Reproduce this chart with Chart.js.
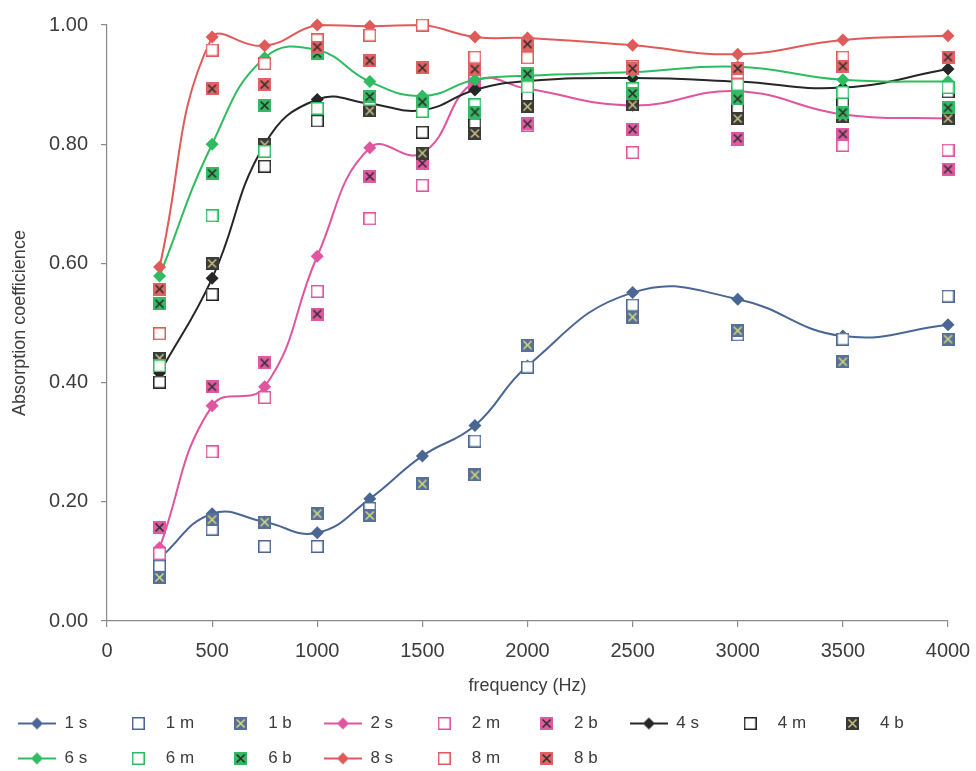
<!DOCTYPE html>
<html>
<head>
<meta charset="utf-8">
<title>Absorption coefficient</title>
<script src="https://cdn.jsdelivr.net/npm/chart.js@4"></script>
<style>
  html, body { margin: 0; padding: 0; background: #fff; }
</style>
</head>
<body>
<canvas id="absorptionChart" width="976" height="771"></canvas>
<script>
// Measured frequencies (Hz)
const freqs = [250, 500, 750, 1000, 1250, 1500, 1750, 2000, 2500, 3000, 3500, 4000];

// s = smoothed curve, m / b = the two measured sets for each sample
const s1 = [0.105, 0.180, 0.166, 0.148, 0.205, 0.277, 0.328, 0.428, 0.551, 0.540, 0.478, 0.497];
const m1 = [0.092, 0.154, 0.125, 0.125, 0.189, 0.230, 0.302, 0.426, 0.530, 0.480, 0.473, 0.545];
const b1 = [0.073, 0.170, 0.166, 0.180, 0.177, 0.230, 0.245, 0.463, 0.510, 0.487, 0.435, 0.473];

const s2 = [0.123, 0.361, 0.393, 0.612, 0.794, 0.785, 0.905, 0.893, 0.865, 0.889, 0.850, 0.843];
const m2 = [0.113, 0.284, 0.375, 0.553, 0.675, 0.731, 0.910, 0.832, 0.786, 0.808, 0.798, 0.790];
const b2 = [0.157, 0.393, 0.433, 0.515, 0.746, 0.768, 0.900, 0.834, 0.825, 0.810, 0.817, 0.758];

const s4 = [0.416, 0.575, 0.800, 0.875, 0.868, 0.857, 0.891, 0.906, 0.911, 0.905, 0.895, 0.926];
const m4 = [0.401, 0.548, 0.763, 0.839, 0.860, 0.820, 0.833, 0.880, 0.893, 0.859, 0.868, 0.888];
const b4 = [0.441, 0.600, 0.799, 0.858, 0.856, 0.785, 0.818, 0.863, 0.866, 0.843, 0.846, 0.843];

const s6 = [0.579, 0.800, 0.945, 0.958, 0.905, 0.881, 0.908, 0.915, 0.921, 0.930, 0.908, 0.905];
const m6 = [0.428, 0.680, 0.788, 0.860, 0.875, 0.855, 0.866, 0.896, 0.893, 0.900, 0.887, 0.895];
const b6 = [0.532, 0.751, 0.865, 0.952, 0.880, 0.871, 0.854, 0.918, 0.885, 0.876, 0.853, 0.861];

const s8 = [0.594, 0.980, 0.965, 1.000, 0.998, 1.000, 0.980, 0.978, 0.966, 0.951, 0.975, 0.982];
const m8 = [0.482, 0.958, 0.935, 0.975, 0.983, 1.000, 0.946, 0.945, 0.930, 0.920, 0.946, 0.945];
const b8 = [0.557, 0.893, 0.900, 0.963, 0.940, 0.928, 0.926, 0.968, 0.927, 0.927, 0.931, 0.946];

const yTicks = [0, 0.2, 0.4, 0.6, 0.8, 1.0];

// colours per sample
const palette = {
    '1': { line: '#4a6694', fill: '#57709a', cross: '#d6da78' },
    '2': { line: '#e0559f', fill: '#e05aa2', cross: '#2e2e2e' },
    '4': { line: '#262626', fill: '#3a3a3a', cross: '#c9c27e' },
    '6': { line: '#2fbb5f', fill: '#35b963', cross: '#2a2a2a' },
    '8': { line: '#e05a5a', fill: '#e06262', cross: '#2e2e2e' }
};

const series = [
    ['1', s1, m1, b1],
    ['2', s2, m2, b2],
    ['4', s4, m4, b4],
    ['6', s6, m6, b6],
    ['8', s8, m8, b8]
];

const textColor = '#3c3c3c';
const axisColor = '#8a8a8a';

// marker images
function crossSquare(fill, cross) {
    const c = document.createElement('canvas');
    c.width = 13; c.height = 13;
    const g = c.getContext('2d');
    g.fillStyle = fill;
    g.fillRect(0, 0, 13, 13);
    g.strokeStyle = cross;
    g.lineWidth = 1.6;
    g.beginPath();
    g.moveTo(2.5, 2.5); g.lineTo(10.5, 10.5);
    g.moveTo(10.5, 2.5); g.lineTo(2.5, 10.5);
    g.stroke();
    return c;
}

function openSquare(color) {
    const c = document.createElement('canvas');
    c.width = 13; c.height = 13;
    const g = c.getContext('2d');
    g.fillStyle = '#fff';
    g.fillRect(0, 0, 13, 13);
    g.strokeStyle = color;
    g.lineWidth = 1.5;
    g.strokeRect(0.75, 0.75, 11.5, 11.5);
    return c;
}

function lineDiamond(color) {
    const c = document.createElement('canvas');
    c.width = 38; c.height = 14;
    const g = c.getContext('2d');
    g.strokeStyle = color;
    g.lineWidth = 2;
    g.beginPath();
    g.moveTo(0, 7); g.lineTo(38, 7);
    g.stroke();
    g.fillStyle = color;
    g.beginPath();
    g.moveTo(19, 1); g.lineTo(25, 7); g.lineTo(19, 13); g.lineTo(13, 7);
    g.closePath();
    g.fill();
    return c;
}

const toPoints = vals => vals.map((v, i) => ({ x: freqs[i], y: v }));

const datasets = [];
const legendIcons = [];
series.forEach(([name, s, m, b]) => {
    const col = palette[name];
    datasets.push({
        label: name + ' s',
        data: toPoints(s),
        showLine: true,
        borderColor: col.line,
        backgroundColor: col.line,
        borderWidth: 2,
        tension: 0.45,
        pointStyle: 'rectRot',
        pointRadius: 6.5,
        pointBorderWidth: 0
    });
    legendIcons.push(lineDiamond(col.line));

    const mIcon = openSquare(col.line);
    datasets.push({
        label: name + ' m',
        data: toPoints(m),
        showLine: false,
        pointStyle: mIcon,
        borderColor: col.line,
        backgroundColor: '#fff'
    });
    legendIcons.push(mIcon);

    const bIcon = crossSquare(col.fill, col.cross);
    datasets.push({
        label: name + ' b',
        data: toPoints(b),
        showLine: false,
        pointStyle: bIcon,
        borderColor: col.fill,
        backgroundColor: col.fill
    });
    legendIcons.push(bIcon);
});

// later series sit on top of earlier ones
datasets.forEach((ds, i) => {
    ds.order = datasets.length - i;
    ds.clip = false;
});

// give every legend entry roughly the same width
const legendFont = { family: '"Liberation Sans", Arial, sans-serif', size: 17 };
const measure = document.createElement('canvas').getContext('2d');
measure.font = legendFont.size + 'px ' + legendFont.family;
function padLabel(text) {
    let t = text;
    while (measure.measureText(t).width < 36) t += ' ';
    return t;
}

new Chart(document.getElementById('absorptionChart'), {
    type: 'scatter',
    data: { datasets: datasets },
    options: {
        responsive: false,
        animation: false,
        layout: { padding: { top: 23, right: 28, bottom: 0, left: 0 } },
        font: { family: '"Liberation Sans", Arial, sans-serif' },
        scales: {
            x: {
                type: 'linear',
                min: 0,
                max: 4000,
                ticks: {
                    stepSize: 500,
                    color: textColor,
                    font: { size: 20 },
                    padding: 12,
                    callback: v => String(v)
                },
                grid: { drawOnChartArea: false, tickLength: 6, color: axisColor, lineWidth: 1.2 },
                border: { color: axisColor, width: 1.2 },
                title: {
                    display: true,
                    text: 'frequency (Hz)',
                    color: textColor,
                    font: { size: 18 },
                    padding: { top: 0, bottom: 0 }
                },
                afterFit: scale => {
                    scale.height = 76;
                    scale.paddingLeft = 0;
                    scale.paddingRight = 0;
                }
            },
            y: {
                min: 0,
                max: 1,
                afterBuildTicks: scale => { scale.ticks = yTicks.map(v => ({ value: v })); },
                ticks: {
                    color: textColor,
                    font: { size: 20 },
                    padding: 13,
                    callback: v => Number(v).toFixed(2)
                },
                grid: { drawOnChartArea: false, tickLength: 6, color: axisColor, lineWidth: 1.2 },
                border: { color: axisColor, width: 1.2 },
                title: {
                    display: true,
                    text: 'Absorption coefficience',
                    color: textColor,
                    font: { size: 18 },
                    padding: { top: 9, bottom: 0 }
                },
                afterFit: scale => { scale.width = 107; }
            }
        },
        plugins: {
            tooltip: { enabled: false },
            legend: {
                position: 'bottom',
                align: 'start',
                maxHeight: 74,
                labels: {
                    usePointStyle: true,
                    pointStyleWidth: 38,
                    padding: 18,
                    color: textColor,
                    font: legendFont,
                    generateLabels: chart => chart.data.datasets.map((ds, i) => ({
                        text: padLabel(ds.label),
                        datasetIndex: i,
                        pointStyle: legendIcons[i],
                        fontColor: textColor,
                        lineWidth: 0,
                        hidden: !chart.isDatasetVisible(i)
                    })),
                    sort: (a, b) => a.datasetIndex - b.datasetIndex
                }
            }
        }
    }
});
</script>
</body>
</html>
